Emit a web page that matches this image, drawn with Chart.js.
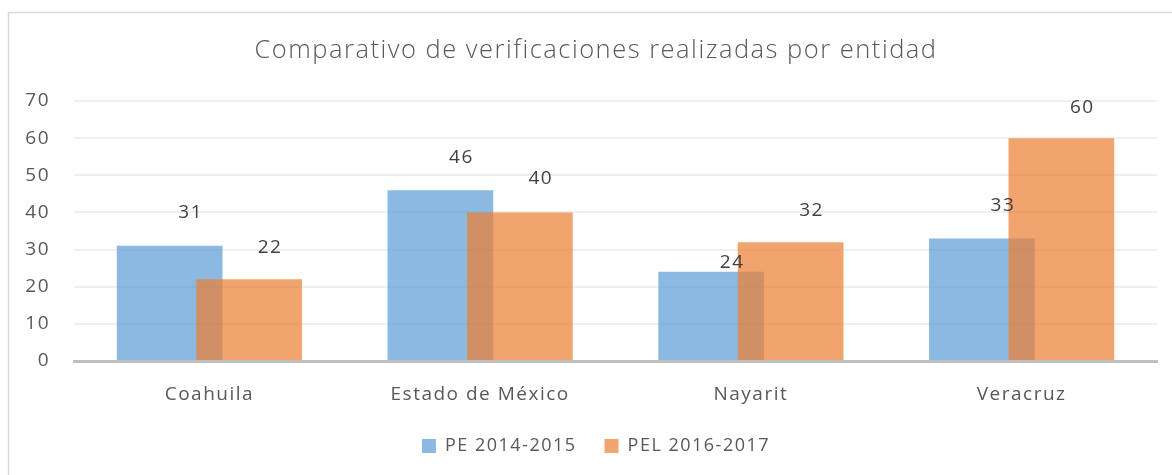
<!DOCTYPE html>
<html>
<head>
<meta charset="utf-8">
<script src="https://cdn.jsdelivr.net/npm/chart.js@4.4.0/dist/chart.umd.min.js"></script>
<style>
  html, body { margin: 0; padding: 0; background: #fff; }
</style>
</head>
<body>
<canvas id="barChart" width="1172" height="475"></canvas>
<script>
const titulo = "Comparativo de verificaciones realizadas por entidad";
const entidades = ["Coahuila", "Estado de México", "Nayarit", "Veracruz"];
const pe20142015 = [31, 46, 24, 33];
const pel20162017 = [22, 40, 32, 60];
const yTicks = [0, 10, 20, 30, 40, 50, 60, 70];

// how far above each bar top its value sits (px)
const labelLift = [
  [33, 33, 9, 33],
  [32, 34, 32, 31],
];

const FONT = '"Open Sans", "Noto Sans", sans-serif';
const TRACKING = "1.5px";

Chart.defaults.font.family = FONT;
Chart.defaults.color = "#595959";

// slightly wider letter spacing for every text on the canvas
const tracking = {
  id: "tracking",
  beforeUpdate(chart) {
    chart.ctx.letterSpacing = TRACKING;
  },
  beforeDraw(chart) {
    chart.ctx.letterSpacing = TRACKING;
  },
};

// white background plus the thin frame on the left and top
const frame = {
  id: "frame",
  beforeDraw(chart) {
    const ctx = chart.ctx;
    ctx.save();
    ctx.fillStyle = "#fff";
    ctx.fillRect(0, 0, chart.width, chart.height);
    ctx.strokeStyle = "#d9d9d9";
    ctx.lineWidth = 1.5;
    ctx.beginPath();
    ctx.moveTo(8.5, chart.height);
    ctx.lineTo(8.5, 12.5);
    ctx.lineTo(chart.width, 12.5);
    ctx.stroke();
    ctx.restore();
  },
};

// paint the first series underneath so the second one overlaps it
const firstUnder = {
  id: "firstUnder",
  beforeDatasetsDraw(chart) {
    chart.getDatasetMeta(0).controller.draw();
  },
  beforeDatasetDraw(chart, args) {
    if (args.index === 0) return false;
  },
};

const valueLabels = {
  id: "valueLabels",
  afterDatasetsDraw(chart) {
    const ctx = chart.ctx;
    ctx.save();
    ctx.font = "19px " + FONT;
    ctx.fillStyle = "#404040";
    ctx.textAlign = "center";
    ctx.textBaseline = "middle";
    chart.data.datasets.forEach((ds, di) => {
      chart.getDatasetMeta(di).data.forEach((bar, i) => {
        ctx.fillText(ds.data[i], bar.x + 21, bar.y - labelLift[di][i]);
      });
    });
    ctx.restore();
  },
};

const ctx = document.getElementById("barChart").getContext("2d");
const myChart = new Chart(ctx, {
  type: "bar",
  data: {
    labels: entidades,
    datasets: [
      {
        label: "PE 2014-2015",
        data: pe20142015,
        backgroundColor: "rgba(91, 155, 213, 0.7)",
        borderWidth: 0,
      },
      {
        label: "PEL 2016-2017",
        data: pel20162017,
        backgroundColor: "rgba(237, 125, 49, 0.7)",
        borderWidth: 0,
      },
    ],
  },
  options: {
    responsive: false,
    animation: false,
    layout: {
      padding: { left: 20, right: 0, top: 12, bottom: 10 },
    },
    datasets: {
      bar: { categoryPercentage: 0.587, barPercentage: 1.33 },
    },
    plugins: {
      title: {
        display: true,
        text: titulo,
        color: "#595959",
        font: { size: 25.5, weight: 300 },
        padding: { top: 23, bottom: 35.4 },
      },
      legend: {
        position: "bottom",
        labels: {
          boxWidth: 14,
          boxHeight: 14,
          padding: 28,
          color: "#595959",
          font: { size: 18 },
        },
      },
      tooltip: { enabled: false },
    },
    scales: {
      x: {
        grid: { display: false },
        border: { color: "#bfbfbf", width: 3 },
        ticks: { padding: 14, color: "#595959", font: { size: 19 } },
        afterFit(scale) {
          scale.height = 48;
        },
      },
      y: {
        min: 0,
        max: 70,
        grid: { color: "#efefef", lineWidth: 2, drawTicks: false },
        border: { display: false },
        ticks: { padding: 24, color: "#595959", font: { size: 19 } },
        afterBuildTicks(scale) {
          scale.ticks = yTicks.map((v) => ({ value: v }));
        },
        afterFit(scale) {
          scale.width = 54;
        },
      },
      // empty strip on the right so the plot stops short of the edge
      yRight: {
        position: "right",
        grid: { display: false },
        border: { display: false },
        ticks: { display: false },
        afterFit(scale) {
          scale.width = 15;
        },
      },
    },
  },
  plugins: [tracking, frame, firstUnder, valueLabels],
});
</script>
</body>
</html>
